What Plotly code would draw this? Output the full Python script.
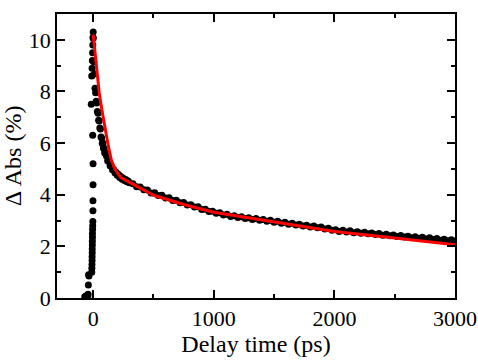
import plotly.graph_objects as go

# ---- data ----
# rise around time zero
rise_t = [-70, -60, -50, -45, -42, -40, -38, -35, -12, -11, -10, -9, -9, -8, -8, -7, -7, -6, -6, -5,
          -4, -3, -2, -2, -1, -1, -4, -16, -12, -9, -7, -5, -3, -1, 0]
rise_v = [0.05, 0.08, 0.10, 0.05, 0.15, 0.50, 0.90, 0.85, 1.00, 1.15, 1.30, 1.45, 1.60, 1.75, 1.90, 2.05, 2.20, 2.35, 2.50, 2.65,
          2.80, 2.96, 3.38, 3.77, 4.39, 5.20, 6.30, 7.50, 8.60, 8.90, 9.20, 9.50, 9.80, 10.10, 10.30]

# decay, early part
early_t = [0, 5, 10, 15, 20, 25, 30, 35, 40, 45, 50, 55, 60, 65, 70, 75, 80, 85, 90, 95, 100,
           110, 120, 130, 140, 150, 160, 170, 180, 190, 200, 210, 220, 230, 240, 250, 260, 270, 280, 290, 300]
early_v = [10.05, 9.15, 8.68, 8.12, 7.95, 7.62, 7.55, 7.22, 7.16, 6.88, 6.86, 6.58, 6.55, 6.24, 6.20, 5.98, 6.00, 5.80, 5.80, 5.62, 5.64,
           5.50, 5.32, 5.29, 5.12, 5.10, 4.97, 4.98, 4.85, 4.87, 4.75, 4.78, 4.67, 4.71, 4.60, 4.64, 4.55, 4.59, 4.50, 4.53, 4.46]

# decay, late part
late_t = [330, 360, 390, 420, 450, 480, 510, 540, 570, 600,
          630, 660, 690, 720, 750, 780, 810, 840, 870, 900,
          930, 960, 990, 1020, 1050, 1080, 1110, 1140, 1170, 1200,
          1230, 1260, 1290, 1320, 1350, 1380, 1410, 1440, 1470, 1500,
          1530, 1560, 1590, 1620, 1650, 1680, 1710, 1740, 1770, 1800,
          1830, 1860, 1890, 1920, 1950, 1980, 2010, 2040, 2070, 2100,
          2130, 2160, 2190, 2220, 2250, 2280, 2310, 2340, 2370, 2400,
          2430, 2460, 2490, 2520, 2550, 2580, 2610, 2640, 2670, 2700,
          2730, 2760, 2790, 2820, 2850, 2880, 2910, 2940, 2970, 3000]
late_v = [4.43, 4.31, 4.30, 4.19, 4.18, 4.07, 4.08, 3.97, 3.98, 3.87,
          3.88, 3.78, 3.79, 3.69, 3.70, 3.60, 3.61, 3.52, 3.53, 3.43,
          3.44, 3.35, 3.36, 3.28, 3.30, 3.21, 3.24, 3.16, 3.19, 3.12,
          3.15, 3.08, 3.11, 3.04, 3.08, 3.01, 3.04, 2.97, 3.01, 2.93,
          2.97, 2.90, 2.93, 2.86, 2.90, 2.83, 2.86, 2.79, 2.82, 2.75,
          2.79, 2.72, 2.75, 2.67, 2.70, 2.62, 2.64, 2.58, 2.62, 2.56,
          2.60, 2.53, 2.57, 2.51, 2.55, 2.49, 2.52, 2.46, 2.50, 2.43,
          2.47, 2.41, 2.44, 2.38, 2.42, 2.36, 2.39, 2.33, 2.37, 2.31,
          2.35, 2.29, 2.33, 2.27, 2.30, 2.24, 2.28, 2.22, 2.26, 2.21]

# fitted curve
fit_t = [0, 25, 50, 75, 100, 125, 150, 175, 200, 230, 500, 750, 1000, 1500, 2000, 2500, 3000]
fit_v = [10.20, 8.97, 7.95, 7.20, 6.50, 5.90, 5.35, 5.05, 4.85, 4.66, 3.98, 3.62, 3.32, 2.95, 2.58, 2.32, 2.06]

x_ticks = [0, 1000, 2000, 3000]
y_ticks = [0, 2, 4, 6, 8, 10]

x_title = "Delay time (ps)"
y_title = "&#916; Abs (%)"   # "Δ Abs (%)"

FONT = "Liberation Serif"

fig = go.Figure()
fig.add_trace(go.Scatter(
    x=rise_t + early_t + late_t, y=rise_v + early_v + late_v,
    mode="markers", marker=dict(color="black", size=7, line=dict(width=0)),
    showlegend=False, hoverinfo="skip"))
fig.add_trace(go.Scatter(
    x=fit_t, y=fit_v, mode="lines", line=dict(color="#ff0000", width=3),
    showlegend=False, hoverinfo="skip"))

axis_common = dict(
    showline=True, linecolor="black", linewidth=1.5, mirror="ticks",
    ticks="inside", ticklen=8, tickwidth=1.5, tickcolor="black",
    showgrid=False, zeroline=False,
    tickfont=dict(family=FONT, size=22, color="black"),
)

fig.update_xaxes(
    range=[-300, 3000], tickvals=x_ticks, ticktext=[str(v) for v in x_ticks],
    minor=dict(dtick=500, tick0=0, ticks="inside", ticklen=4, tickwidth=1.5, tickcolor="black", showgrid=False),
    title=dict(text=x_title, font=dict(family=FONT, size=24, color="black"), standoff=0),
    **axis_common)
fig.update_yaxes(
    range=[0, 11], tickvals=y_ticks, ticktext=[str(v) for v in y_ticks],
    minor=dict(dtick=1, tick0=0, ticks="inside", ticklen=4, tickwidth=1.5, tickcolor="black", showgrid=False),
    title=dict(text=y_title, font=dict(family=FONT, size=24, color="black"), standoff=3),
    **axis_common)

fig.update_layout(
    width=478, height=360,
    margin=dict(l=57, r=23, t=14, b=62, autoexpand=False),
    paper_bgcolor="white", plot_bgcolor="white",
)

fig.write_html("out.html", post_script="document.body.style.margin='0';",
               config={"displayModeBar": False})
